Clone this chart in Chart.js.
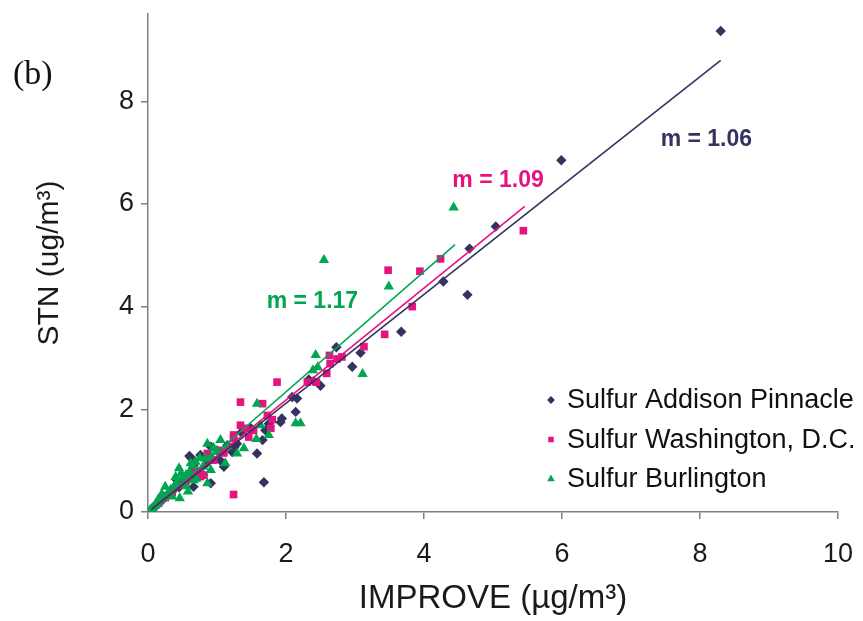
<!DOCTYPE html>
<html lang="en">
<head>
    <meta charset="UTF-8">
    <title>Sulfur STN vs IMPROVE</title>
    <script src="https://cdn.jsdelivr.net/npm/chart.js"></script>
    <style>
        html, body { margin: 0; padding: 0; background: #ffffff; }
        #wrap { width: 863px; height: 621px; }
    </style>
</head>
<body>
    <div id="wrap"><canvas id="myChart" width="863" height="621"></canvas></div>
    <script>
        // values: [IMPROVE, STN]
        const addisonPts = [
            [8.30, 9.37], [5.99, 6.85], [5.04, 5.56], [4.66, 5.13], [4.63, 4.23], [4.28, 4.49],
            [3.67, 3.51], [3.08, 3.10], [2.96, 2.83], [2.73, 3.21], [2.50, 2.46], [2.33, 2.58],
            [2.16, 2.21], [2.09, 2.24], [2.14, 1.95], [1.94, 1.82], [1.92, 1.75], [1.75, 1.72],
            [1.70, 1.59], [1.66, 1.40], [1.58, 1.14], [1.68, 0.58], [1.29, 1.33], [1.22, 1.17],
            [1.00, 1.20], [0.91, 1.27], [1.10, 0.88], [0.91, 0.56], [1.49, 1.63], [0.62, 1.06],
            [0.66, 0.49], [0.42, 0.62], [0.60, 1.09], [0.66, 0.91], [0.76, 1.11], [1.35, 1.55],
            [0.85, 0.95], [0.80, 0.72], [0.70, 0.80], [0.55, 0.62], [0.50, 0.55], [0.35, 0.40],
            [0.30, 0.36], [0.25, 0.30], [0.20, 0.22], [0.15, 0.18], [0.12, 0.12], [0.08, 0.09],
            [0.45, 0.48], [1.05, 1.00], [1.15, 1.30], [1.25, 1.25], [2.40, 2.55]
        ];
        const washingtonPts = [
            [5.44, 5.48], [4.24, 4.93], [3.94, 4.69], [3.48, 4.71], [3.83, 4.00], [3.43, 3.46],
            [3.13, 3.22], [2.81, 3.02], [2.74, 2.98], [2.63, 3.05], [2.64, 2.89], [2.59, 2.70],
            [2.44, 2.53], [2.31, 2.53], [1.87, 2.53], [1.34, 2.14], [1.66, 2.11], [1.73, 1.88],
            [1.80, 1.80], [1.78, 1.63], [1.34, 1.69], [1.41, 1.63], [1.24, 1.50], [1.46, 1.46],
            [1.24, 1.43], [1.53, 1.59], [1.24, 0.34], [1.03, 1.20], [0.95, 1.01], [0.86, 1.14],
            [0.81, 0.72], [0.76, 0.69], [0.66, 0.82], [0.55, 0.60], [0.45, 0.52], [0.35, 0.38],
            [0.25, 0.28], [0.15, 0.17], [0.60, 0.72], [0.70, 0.75], [1.10, 1.15]
        ];
        const burlingtonPts = [
            [4.43, 5.93], [2.55, 4.91], [3.49, 4.39], [2.43, 3.06], [2.39, 2.76], [2.46, 2.82],
            [3.11, 2.69], [1.58, 2.11], [2.14, 1.73], [2.21, 1.73], [1.75, 1.50], [1.57, 1.42],
            [1.39, 1.24], [1.29, 1.14], [1.12, 0.95], [1.05, 1.40], [0.86, 1.33], [0.83, 1.04],
            [0.86, 0.56], [0.45, 0.85], [0.46, 0.27], [0.25, 0.49], [0.69, 0.98], [0.91, 0.82],
            [1.63, 1.69], [0.95, 1.25], [1.00, 1.18], [0.75, 1.05], [0.65, 0.90], [0.60, 0.78],
            [0.55, 0.72], [0.50, 0.66], [0.42, 0.58], [0.38, 0.50], [0.33, 0.44], [0.30, 0.38],
            [0.27, 0.32], [0.22, 0.28], [0.18, 0.24], [0.15, 0.20], [0.12, 0.15], [0.10, 0.12],
            [0.07, 0.09], [0.05, 0.06], [0.03, 0.04], [0.35, 0.30], [0.55, 0.50], [0.70, 0.65],
            [0.80, 0.88], [0.92, 1.08], [1.15, 1.28], [0.62, 0.95], [0.48, 0.75], [0.40, 0.68],
            [0.20, 0.35], [0.15, 0.25], [0.58, 0.40], [0.66, 0.62]
        ];

        const seriesNames = ['Sulfur Addison Pinnacle', 'Sulfur Washington, D.C.', 'Sulfur Burlington'];
        const seriesColors = ['#33335f', '#e6127f', '#00a651'];
        const seriesShapes = ['rectRot', 'rect', 'triangle'];
        const slopes = [1.06, 1.09, 1.17];
        const fitStart = [0.05, 0.05, 0.05];
        const fitEnd = [8.30, 5.46, 4.45];
        // where the slope text starts, in data units [x, y]
        const slopeLabelPos = [[7.43, 7.25], [4.41, 6.45], [1.72, 4.09]];

        const xTicks = [0, 2, 4, 6, 8, 10];
        const yTicks = [0, 2, 4, 6, 8];

        const toXY = pts => pts.map(p => ({x: p[0], y: p[1]}));
        const allPts = [addisonPts, washingtonPts, burlingtonPts];

        const datasets = [];
        // trend lines on top
        for (let i = 0; i < 3; i++) {
            datasets.push({
                type: 'line',
                label: 'fit ' + i,
                data: [
                    {x: fitStart[i], y: slopes[i] * fitStart[i]},
                    {x: fitEnd[i], y: slopes[i] * fitEnd[i]}
                ],
                borderColor: seriesColors[i],
                borderWidth: 1.6,
                pointRadius: 0,
                fill: false,
                order: 0
            });
        }
        const radii = [5.2, 5.4, 6.0];
        for (let i = 0; i < 3; i++) {
            datasets.push({
                type: 'scatter',
                label: seriesNames[i],
                data: toXY(allPts[i]),
                pointStyle: seriesShapes[i],
                pointRadius: radii[i],
                backgroundColor: seriesColors[i],
                borderColor: seriesColors[i],
                borderWidth: 0,
                order: 3 - i
            });
        }

        const extras = {
            id: 'extras',
            afterDatasetsDraw(chart) {
                const ctx = chart.ctx;
                const xs = chart.scales.x, ys = chart.scales.y;
                ctx.save();
                // panel tag
                ctx.fillStyle = '#111';
                ctx.font = '34px "Liberation Serif", "Times New Roman", serif';
                ctx.textBaseline = 'alphabetic';
                ctx.textAlign = 'left';
                ctx.fillText('(b)', 13, 84);

                // slope labels
                ctx.font = 'bold 23px "Liberation Sans", Arial, sans-serif';
                ctx.textBaseline = 'middle';
                for (let i = 0; i < 3; i++) {
                    ctx.fillStyle = seriesColors[i];
                    ctx.fillText('m = ' + slopes[i].toFixed(2),
                        xs.getPixelForValue(slopeLabelPos[i][0]),
                        ys.getPixelForValue(slopeLabelPos[i][1]));
                }

                // legend inside plot
                const lx = 551, ly = 400, gap = 39.5;
                ctx.font = '27px "Liberation Sans", Arial, sans-serif';
                for (let i = 0; i < 3; i++) {
                    const y = ly + i * gap;
                    ctx.fillStyle = seriesColors[i];
                    ctx.strokeStyle = seriesColors[i];
                    Chart.helpers.drawPoint(ctx, {
                        pointStyle: seriesShapes[i],
                        radius: i === 2 ? 4.4 : 3.9,
                        borderWidth: 0,
                        rotation: 0
                    }, lx, y);
                    ctx.fillStyle = '#111';
                    ctx.fillText(seriesNames[i], 567, y + 1);
                }
                ctx.restore();
            }
        };

        const ctx = document.getElementById('myChart').getContext('2d');
        const myChart = new Chart(ctx, {
            type: 'scatter',
            data: { datasets: datasets },
            options: {
                responsive: false,
                animation: false,
                layout: { padding: { top: 14, right: 25, left: 0, bottom: 0 } },
                plugins: {
                    legend: { display: false },
                    tooltip: { enabled: false }
                },
                scales: {
                    x: {
                        type: 'linear',
                        min: 0,
                        max: 10,
                        afterFit: s => { s.height = 109; s.paddingLeft = 0; s.paddingRight = 0; },
                        afterBuildTicks: s => { s.ticks = xTicks.map(v => ({value: v})); },
                        grid: { drawOnChartArea: false, drawTicks: true, tickLength: 7, color: '#808080', lineWidth: 1.5 },
                        border: { color: '#808080', width: 1.5 },
                        ticks: {
                            color: '#1a1a1a',
                            padding: 19,
                            maxRotation: 0,
                            font: { family: '"Liberation Sans", Arial, sans-serif', size: 27 }
                        },
                        title: {
                            display: true,
                            text: 'IMPROVE (\u00b5g/m\u00b3)',
                            color: '#1a1a1a',
                            padding: { top: 0, bottom: 2 },
                            font: { family: '"Liberation Sans", Arial, sans-serif', size: 33 }
                        }
                    },
                    y: {
                        type: 'linear',
                        min: 0,
                        max: 9.7,
                        afterFit: s => { s.width = 148; s.paddingTop = 0; s.paddingBottom = 0; },
                        afterBuildTicks: s => { s.ticks = yTicks.map(v => ({value: v})); },
                        grid: { drawOnChartArea: false, drawTicks: true, tickLength: 7, color: '#808080', lineWidth: 1.5 },
                        border: { color: '#808080', width: 1.5 },
                        ticks: {
                            color: '#1a1a1a',
                            padding: 7,
                            font: { family: '"Liberation Sans", Arial, sans-serif', size: 27 }
                        },
                        title: {
                            display: true,
                            text: 'STN (ug/m\u00b3)',
                            color: '#1a1a1a',
                            padding: { top: 32, bottom: 0 },
                            font: { family: '"Liberation Sans", Arial, sans-serif', size: 30 }
                        }
                    }
                }
            },
            plugins: [extras]
        });
    </script>
</body>
</html>
